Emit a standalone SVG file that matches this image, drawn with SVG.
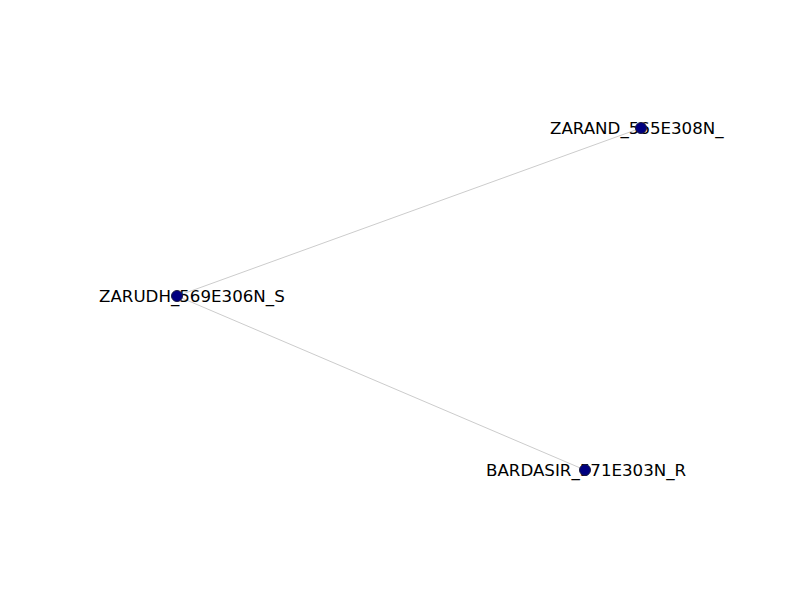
<svg xmlns="http://www.w3.org/2000/svg" width="800" height="600" viewBox="0 0 800 600">
<style>
.edge{stroke:#cccccc;stroke-width:1;fill:none}
.node{fill:#000080;stroke:#1a1a40;stroke-width:1}
.lbl{font-family:"DejaVu Sans",sans-serif;font-size:16.67px;fill:#000000}
</style>
<rect width="800" height="600" fill="#ffffff"/>
<g id="connectors">
<line class="edge" x1="177" y1="296" x2="641" y2="128"/>
<line class="edge" x1="177" y1="296" x2="585" y2="470"/>
</g>
<g id="ZARAND_565E308N_">
<text class="lbl" x="550" y="134">ZARAND_565E308N_</text>
<circle class="node" cx="641" cy="128" r="5.5"/>
</g>
<g id="ZARUDH_569E306N_S">
<text class="lbl" x="99" y="302">ZARUDH_569E306N_S</text>
<circle class="node" cx="177" cy="296" r="5.5"/>
</g>
<g id="BARDASIR_571E303N_R">
<text class="lbl" x="486" y="476">BARDASIR_571E303N_R</text>
<circle class="node" cx="585" cy="470" r="5.5"/>
</g>
</svg>
